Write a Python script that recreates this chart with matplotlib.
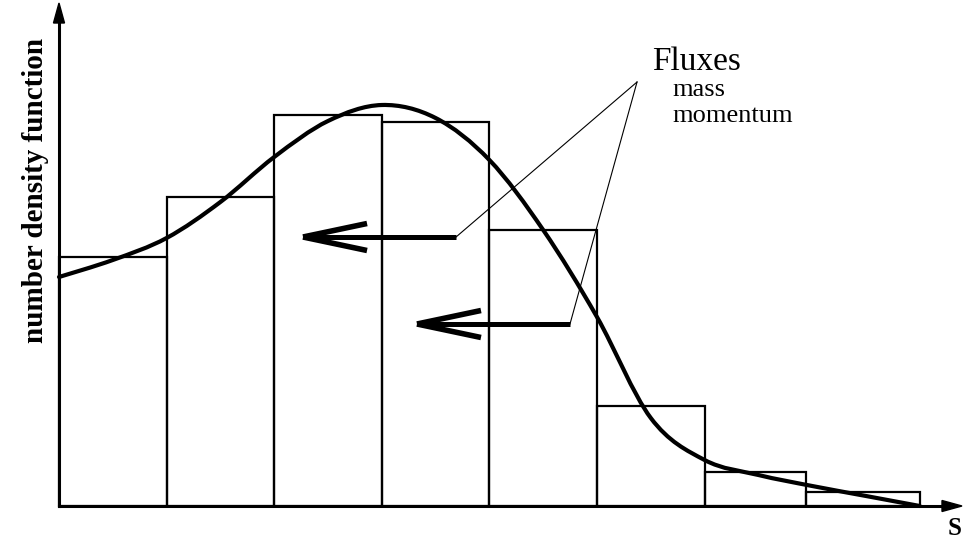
import numpy as np
import matplotlib
matplotlib.use("Agg")
import matplotlib.pyplot as plt
from matplotlib.path import Path
from matplotlib.patches import PathPatch, Polygon

plt.rcParams["font.family"] = ["Liberation Serif", "DejaVu Serif"]

# histogram bins (size s) and heights (number density)
bin_edges = [0.0, 1.0, 2.0, 3.0, 4.0, 5.0, 6.0, 6.94, 8.0]
bin_heights = [2.49, 3.09, 3.91, 3.84, 2.76, 1.00, 0.34, 0.14]

# continuous distribution
curve_s = [0.0, 0.5, 1.0, 1.5, 2.0, 2.5, 3.0, 3.5, 4.0, 4.5, 5.0, 5.5, 6.0, 6.5, 7.0, 7.5, 8.0]
curve_n = [2.29, 2.46, 2.68, 3.04, 3.49, 3.85, 4.01, 3.88, 3.46, 2.76, 1.89, 0.88,
           0.46, 0.31, 0.20, 0.10, 0.0]

# flux arrows: (tail_s, tip_s, level)
flux_arrows = [(3.69, 2.268, 2.69), (4.749, 3.327, 1.82)]
flux_apex = (5.372, 4.24)

# pixel scale: 1 unit in s = 107.6 px, 1 unit in n = 100 px
SX, SY = 107.6, 100.0
W, H = 967, 550
X0, Y0 = 59, 506


def smooth_path(xs, ys):
    pts = np.column_stack([xs, ys])
    verts = [pts[0]]
    codes = [Path.MOVETO]
    for i in range(len(pts) - 1):
        p0 = pts[i - 1] if i > 0 else pts[i]
        p1, p2 = pts[i], pts[i + 1]
        p3 = pts[i + 2] if i + 2 < len(pts) else pts[i + 1]
        verts += [p1 + (p2 - p0) / 6, p2 - (p3 - p1) / 6, p2]
        codes += [Path.CURVE4] * 3
    return Path(verts, codes)


fig = plt.figure(figsize=(W / 100, H / 100), dpi=100)
ax = fig.add_axes([0, 0, 1, 1])
ax.set_xlim(-X0 / SX, (W - X0) / SX)
ax.set_ylim(-(H - Y0) / SY, Y0 / SY)
ax.axis("off")

ax.bar(bin_edges[:-1], bin_heights, width=np.diff(bin_edges), align="edge",
       facecolor="none", edgecolor="black", linewidth=1.6)

ax.add_patch(PathPatch(smooth_path(curve_s, curve_n), facecolor="none",
                       edgecolor="black", linewidth=3.0, capstyle="round"))

# axes with filled arrowheads
y_top = (Y0 - 3) / SY
x_end = (962 - X0) / SX
ax.plot([0, 0], [0, y_top - 0.15], color="black", lw=2.2, solid_capstyle="projecting")
ax.plot([0, x_end - 0.15], [0, 0], color="black", lw=2.2, solid_capstyle="projecting")
ax.add_patch(Polygon([[0, y_top], [-5.5 / SX, y_top - 0.2], [5.5 / SX, y_top - 0.2]],
                     closed=True, color="black"))
ax.add_patch(Polygon([[x_end, 0], [x_end - 20 / SX, 5.5 / SY], [x_end - 20 / SX, -5.5 / SY]],
                     closed=True, color="black"))

# flux arrows and leader lines
for tail, tip, lvl in flux_arrows:
    ax.plot([tip + 0.03, tail], [lvl, lvl], color="black", lw=3.6, solid_capstyle="butt")
    for sgn in (1, -1):
        ax.plot([tip, tip + 64 / SX], [lvl, lvl + sgn * 13.5 / SY], color="black",
                lw=4.0, solid_capstyle="butt")
    ax.plot([tail, flux_apex[0]], [lvl, flux_apex[1]], color="black", lw=0.8)

ax.text((652 - X0) / SX, (Y0 - 70) / SY, "Fluxes", fontsize=24, ha="left", va="baseline")
ax.text((672 - X0) / SX, (Y0 - 96) / SY, "mass", fontsize=19, ha="left", va="baseline")
ax.text((672 - X0) / SX, (Y0 - 122) / SY, "momentum", fontsize=19, ha="left", va="baseline")

ax.text((955 - X0) / SX, (Y0 - 535) / SY, "S", fontsize=18, fontweight="bold",
        ha="center", va="baseline")
ax.text((36 - X0) / SX, (Y0 - 190) / SY, "number density function", fontsize=21,
        fontweight="bold", rotation=90, ha="center", va="center")

fig.savefig("out.png", dpi=100)
